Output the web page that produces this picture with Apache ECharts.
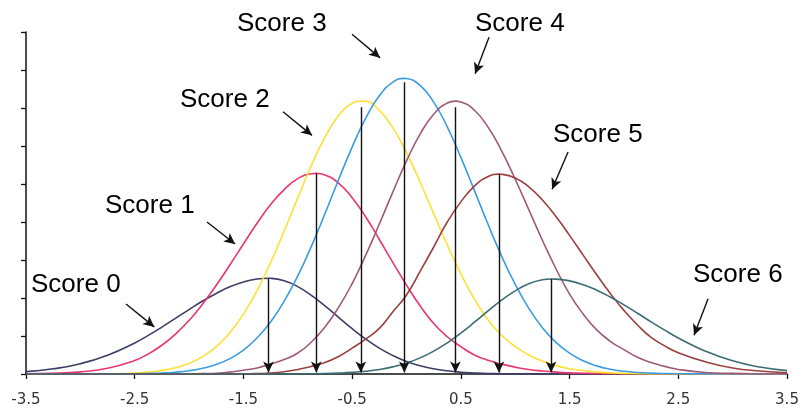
<!DOCTYPE html>
<html>
<head>
<meta charset="utf-8">
<script src="https://cdn.jsdelivr.net/npm/echarts@6/dist/echarts.min.js"></script>
<style>
  html, body { margin: 0; padding: 0; background: #fff; }
  #chart { width: 805px; height: 409px; }
</style>
</head>
<body>
<div id="chart"></div>
<script>
// x sample points (ability scale), finer in the middle
var xs = [-3.5, -3.25, -3, -2.75,
          -2.5, -2.375, -2.25, -2.125, -2, -1.875, -1.75, -1.625,
          -1.5, -1.375, -1.25, -1.125, -1, -0.875, -0.75, -0.625,
          -0.5, -0.375, -0.25, -0.125, 0, 0.125, 0.25, 0.375,
          0.5, 0.625, 0.75, 0.875, 1, 1.125, 1.25, 1.375,
          1.5, 1.625, 1.75, 1.875, 2, 2.125, 2.25, 2.375,
          2.5, 2.75, 3, 3.25, 3.5];

var score0 = [0.0031, 0.0068, 0.0136, 0.0248,
              0.0409, 0.0508, 0.0617, 0.0732, 0.0848, 0.096, 0.106, 0.1147,
              0.121, 0.125, 0.1259, 0.1227, 0.115, 0.1035, 0.0896, 0.0746,
              0.0597, 0.046, 0.034, 0.0242, 0.0165, 0.0109, 0.0069, 0.0042,
              0.0024, 0.0014, 0.0007, 0.0004, 0.0002, 0.0001, 0, 0,
              0, 0, 0, 0, 0, 0, 0, 0,
              0, 0, 0, 0, 0];
var score1 = [0.0003, 0.0009, 0.0028, 0.0075,
              0.0179, 0.0264, 0.0378, 0.0524, 0.0705, 0.0921, 0.1167, 0.1435,
              0.171, 0.1983, 0.223, 0.2427, 0.257, 0.2635, 0.262, 0.2512,
              0.232, 0.2066, 0.177, 0.1466, 0.117, 0.0897, 0.0664, 0.049,
              0.036, 0.025, 0.018, 0.013, 0.009, 0.006, 0.004, 0.0025,
              0.0015, 0.001, 0.0005, 0.0003, 0.0001, 0.0001, 0, 0,
              0, 0, 0, 0, 0];
var score2 = [0, 0, 0.0001, 0.0003,
              0.0013, 0.0025, 0.0046, 0.0082, 0.014, 0.0229, 0.036, 0.0543,
              0.0788, 0.1096, 0.1466, 0.1881, 0.2318, 0.2743, 0.3116, 0.3399,
              0.356, 0.3589, 0.347, 0.3238, 0.2914, 0.2526, 0.211, 0.1699,
              0.1318, 0.0986, 0.071, 0.051, 0.036, 0.025, 0.017, 0.011,
              0.007, 0.0045, 0.0025, 0.0015, 0.0008, 0.0005, 0.0002, 0.0001,
              0, 0, 0, 0, 0];
var score3 = [0, 0, 0, 0.0001,
              0.0003, 0.0007, 0.0013, 0.0024, 0.0043, 0.0075, 0.0125, 0.0202,
              0.0315, 0.0473, 0.0685, 0.0958, 0.129, 0.168, 0.211, 0.2556,
              0.2986, 0.3366, 0.366, 0.384, 0.3888, 0.3797, 0.3578, 0.3252,
              0.285, 0.2413, 0.197, 0.155, 0.118, 0.0864, 0.061, 0.0416,
              0.0274, 0.0174, 0.0107, 0.0063, 0.0036, 0.002, 0.0011, 0.0006,
              0.0003, 0.0001, 0, 0, 0];
var score4 = [0, 0, 0, 0,
              0, 0, 0.0001, 0.0001, 0.0002, 0.0005, 0.001, 0.0025,
              0.005, 0.008, 0.013, 0.019, 0.0276, 0.0421, 0.0619, 0.0876,
              0.119, 0.1564, 0.1973, 0.2397, 0.2804, 0.3156, 0.3418, 0.3565,
              0.358, 0.347, 0.3248, 0.2936, 0.2563, 0.2162, 0.176, 0.1385,
              0.1052, 0.079, 0.058, 0.043, 0.032, 0.022, 0.015, 0.01,
              0.006, 0.002, 0.0008, 0.0002, 0];
var score5 = [0, 0, 0, 0,
              0, 0, 0, 0, 0, 0, 0.0001, 0.0001,
              0.0003, 0.0006, 0.0012, 0.003, 0.006, 0.01, 0.015, 0.023,
              0.034, 0.046, 0.06, 0.082, 0.104, 0.135, 0.167, 0.2,
              0.2265, 0.2472, 0.2598, 0.2628, 0.258, 0.2463, 0.229, 0.2072,
              0.1824, 0.1564, 0.1305, 0.1059, 0.0837, 0.0644, 0.0482, 0.037,
              0.028, 0.016, 0.008, 0.004, 0.0015];
var score6 = [0, 0, 0, 0,
              0, 0, 0, 0, 0, 0, 0, 0,
              0, 0, 0, 0.0001, 0.0002, 0.0003, 0.0006, 0.0012,
              0.0021, 0.0036, 0.0059, 0.0094, 0.0144, 0.0212, 0.0301, 0.041,
              0.0539, 0.0681, 0.0829, 0.0971, 0.1094, 0.1188, 0.124, 0.1249,
              0.1225, 0.1175, 0.1103, 0.1013, 0.0909, 0.0799, 0.0686, 0.0577,
              0.0474, 0.03, 0.0173, 0.0092, 0.0044];

var scoreNames = ['Score 0', 'Score 1', 'Score 2', 'Score 3', 'Score 4', 'Score 5', 'Score 6'];
var colors = ['#3b3f66', '#e8366f', '#ffe033', '#3a9de0', '#9e5a78', '#9c3f3f', '#3a6c76'];

// each curve's peak: position, height of the curve, top of its vertical arrow
var peakX = [-1.27, -0.83, -0.42, -0.02, 0.45, 0.85, 1.33];
var peakCurve = [0.126, 0.264, 0.359, 0.389, 0.359, 0.263, 0.125];
var peakArrow = [0.125, 0.264, 0.351, 0.384, 0.351, 0.263, 0.125];

var xTicks = [-3.5, -2.5, -1.5, -0.5, 0.5, 1.5, 2.5, 3.5];

var allScores = [score0, score1, score2, score3, score4, score5, score6];

// [x, y] pairs with the peak point slotted in at its place
function pairs(ys, px, py) {
    var arr = [];
    var added = false;
    for (var i = 0; i < xs.length; i++) {
        if (!added && xs[i] > px) {
            arr.push([px, py]);
            added = true;
        }
        arr.push([xs[i], ys[i]]);
    }
    return arr;
}

// pointer arrows from each label to its curve, in data coords
var pointers = [
    [[-2.58, 0.092], [-2.32, 0.062]],
    [[-1.835, 0.200], [-1.577, 0.171]],
    [[-1.136, 0.345], [-0.869, 0.314]],
    [[-0.501, 0.447], [-0.243, 0.416]],
    [[0.759, 0.443], [0.631, 0.395]],
    [[1.486, 0.292], [1.339, 0.243]],
    [[2.774, 0.099], [2.645, 0.051]]
];
// label positions in pixels (left, middle)
var labelPos = [[31, 287], [105, 208], [180, 102], [237, 26], [475, 26], [553, 137], [693, 277]];

var series = [];
for (var i = 0; i < allScores.length; i++) {
    series.push({
        name: scoreNames[i],
        type: 'line',
        data: pairs(allScores[i], peakX[i], peakCurve[i]),
        smooth: 0.5,
        showSymbol: false,
        lineStyle: { color: colors[i], width: 1.6 },
        z: 2
    });
}

var arrowData = [];
for (var j = 0; j < peakX.length; j++) {
    arrowData.push([{ coord: [peakX[j], peakArrow[j]] }, { coord: [peakX[j], 0.002] }]);
}
for (var k = 0; k < pointers.length; k++) {
    arrowData.push([{ coord: pointers[k][0] }, { coord: pointers[k][1] }]);
}

series.push({
    name: 'arrows',
    type: 'line',
    data: [],
    z: 5,
    markLine: {
        silent: true,
        symbol: ['none', 'arrow'],
        symbolSize: [8, 11],
        label: { show: false },
        lineStyle: { color: '#111', width: 1.4, type: 'solid' },
        emphasis: { disabled: true },
        data: arrowData
    }
});

var graphics = [];
for (var m = 0; m < scoreNames.length; m++) {
    graphics.push({
        type: 'text',
        left: labelPos[m][0],
        top: labelPos[m][1] - 15,
        style: {
            text: scoreNames[m],
            font: '26px "Liberation Sans", Arial, sans-serif',
            fill: '#000'
        }
    });
}

var chart = echarts.init(document.getElementById('chart'));
chart.setOption({
    animation: false,
    grid: { left: 26, right: 18, top: 32, bottom: 35 },
    xAxis: {
        type: 'value',
        min: -3.5,
        max: 3.5,
        splitLine: { show: false },
        axisLine: { lineStyle: { color: '#111', width: 1.5 } },
        axisTick: { show: true, length: 5, customValues: xTicks, lineStyle: { color: '#111', width: 1.3 } },
        axisLabel: {
            customValues: xTicks,
            margin: 19,
            fontFamily: 'DejaVu Sans',
            fontSize: 15,
            color: '#333'
        }
    },
    yAxis: {
        type: 'value',
        min: 0,
        max: 0.45,
        interval: 0.05,
        splitLine: { show: false },
        axisLine: { show: true, onZero: false, lineStyle: { color: '#111', width: 1.5 } },
        axisTick: { show: true, length: 5, lineStyle: { color: '#111', width: 1.3 } },
        axisLabel: { show: false }
    },
    series: series,
    graphic: graphics
});
</script>
</body>
</html>
